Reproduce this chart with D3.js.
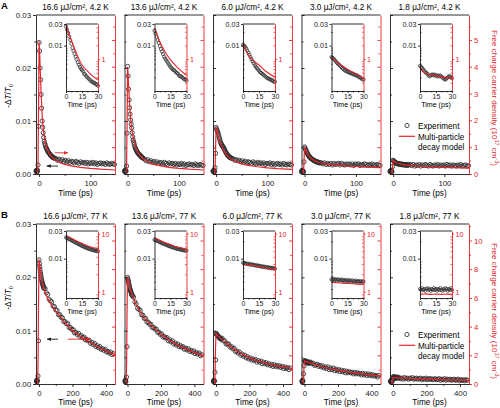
<!DOCTYPE html>
<html><head><meta charset="utf-8">
<script src="https://cdn.jsdelivr.net/npm/d3@7"></script>
<style>
body{margin:0;background:#fff;}
svg text{font-family:"Liberation Sans",Arial,sans-serif;}
</style></head><body>
<svg id="c" width="500" height="408"></svg>
<script>
// ---------------- DATA ----------------
const titlesA = ["16.6 μJ/cm², 4.2 K","13.6 μJ/cm², 4.2 K","6.0 μJ/cm², 4.2 K","3.0 μJ/cm², 4.2 K","1.8 μJ/cm², 4.2 K"];
const titlesB = ["16.6 μJ/cm², 77 K","13.6 μJ/cm², 77 K","6.0 μJ/cm², 77 K","3.0 μJ/cm², 77 K","1.8 μJ/cm², 77 K"];

// time axis of the 4.2 K experiment (ps)
const timeA = [-6,-5.5,-5,-4.5,-4,-3.5,-3,-2,-1,0,1,2,3,4,5,6,7,8,9,10,11,12,13,14,15,16,17,18,19,20,21,22,23,24,25,26,27,28,29,30,
  33,36,39,42,45,48,51,54,57,60,63,66,69,72,75,78,81,84,87,90,93,96,99,102,105,108,111,114,117,120,123,126,129,132,135,138,141,144,147];
// -dT/T0 at 4.2 K
const expA1 = [0.0006,0.0004,0.0007,0.0005,0.0006,0.0004,0.0007,0.0017,0.0090,
  0.0248,0.0232,0.0200,0.0178,0.0150,0.0124,0.0100,0.0088,0.0078,0.0069,0.0062,0.0058,0.0055,0.0051,0.0049,0.0047,0.0045,0.0043,0.0041,0.0040,0.0039,0.0037,0.0036,0.0035,0.0034,0.0033,0.0032,0.0031,0.0031,0.0030,0.0030,
  0.0029,0.0026,0.0028,0.0025,0.0027,0.0024,0.0026,0.0023,0.0025,0.0022,0.0024,0.0023,0.0021,0.0024,0.0022,0.0020,0.0023,0.0021,0.0022,0.0020,0.0022,0.0019,0.0021,0.0020,0.0022,0.0019,0.0021,0.0018,0.0020,0.0021,0.0019,0.0020,0.0018,0.0021,0.0019,0.0018,0.0020,0.0019,0.0018];
const expA2 = [0.0005,0.0007,0.0004,0.0006,0.0005,0.0007,0.0005,0.0015,0.0077,
  0.0203,0.0185,0.0160,0.0140,0.0125,0.0113,0.0102,0.0094,0.0087,0.0078,0.0070,0.0064,0.0060,0.0056,0.0052,0.0049,0.0047,0.0045,0.0043,0.0041,0.0040,0.0039,0.0037,0.0036,0.0036,0.0034,0.0033,0.0033,0.0031,0.0031,0.0030,
  0.0028,0.0025,0.0027,0.0023,0.0025,0.0022,0.0024,0.0021,0.0023,0.0020,0.0022,0.0021,0.0019,0.0022,0.0020,0.0018,0.0021,0.0019,0.0020,0.0018,0.0020,0.0017,0.0019,0.0018,0.0020,0.0017,0.0019,0.0016,0.0018,0.0019,0.0017,0.0018,0.0016,0.0019,0.0017,0.0016,0.0018,0.0017,0.0016];
const expA3 = [0.0005,0.0006,0.0004,0.0007,0.0005,0.0006,0.0004,0.0012,0.0039,
  0.0088,0.0085,0.0082,0.0080,0.0077,0.0073,0.0069,0.0066,0.0062,0.0059,0.0057,0.0055,0.0053,0.0052,0.0051,0.0049,0.0047,0.0045,0.0043,0.0041,0.0039,0.0038,0.0036,0.0035,0.0034,0.0033,0.0032,0.0031,0.0031,0.0030,0.0030,
  0.0029,0.0026,0.0027,0.0025,0.0026,0.0023,0.0025,0.0022,0.0024,0.0021,0.0023,0.0022,0.0020,0.0023,0.0021,0.0019,0.0022,0.0020,0.0021,0.0019,0.0021,0.0018,0.0020,0.0019,0.0021,0.0018,0.0020,0.0017,0.0019,0.0020,0.0018,0.0019,0.0017,0.0020,0.0018,0.0017,0.0019,0.0018,0.0017];
const expA4 = [0.0004,0.0006,0.0005,0.0007,0.0004,0.0006,0.0005,0.0004,0.0023,
  0.0051,0.0049,0.0046,0.0044,0.0042,0.0040,0.0038,0.0036,0.0034,0.0033,0.0032,0.0031,0.0030,0.0029,0.0028,0.0028,0.0027,0.0026,0.0026,0.0025,0.0025,0.0024,0.0024,0.0023,0.0023,0.0023,0.0022,0.0022,0.0022,0.0021,0.0021,
  0.0021,0.0019,0.0021,0.0018,0.0020,0.0018,0.0020,0.0017,0.0020,0.0018,0.0019,0.0020,0.0017,0.0020,0.0018,0.0017,0.0019,0.0018,0.0019,0.0017,0.0019,0.0016,0.0019,0.0018,0.0019,0.0016,0.0018,0.0017,0.0019,0.0018,0.0016,0.0018,0.0017,0.0019,0.0017,0.0016,0.0018,0.0017,0.0016];
const expA5 = [0.0005,0.0004,0.0006,0.0005,0.0007,0.0004,0.0006,0.0004,0.0014,
  0.0026,0.0025,0.0024,0.0023,0.0022,0.0021,0.0021,0.0020,0.0020,0.0019,0.0020,0.0019,0.0019,0.0018,0.0019,0.0018,0.0018,0.0019,0.0018,0.0017,0.0018,0.0018,0.0017,0.0018,0.0017,0.0017,0.0018,0.0017,0.0016,0.0017,0.0017,
  0.0018,0.0016,0.0018,0.0015,0.0017,0.0016,0.0018,0.0015,0.0017,0.0016,0.0018,0.0016,0.0015,0.0018,0.0016,0.0015,0.0017,0.0016,0.0018,0.0015,0.0017,0.0016,0.0017,0.0015,0.0018,0.0016,0.0017,0.0015,0.0017,0.0016,0.0015,0.0017,0.0016,0.0018,0.0015,0.0016,0.0017,0.0015,0.0016];

// multi-particle decay model at 4.2 K, carrier density (1e17 cm^-3)
const modelTimeA = [-3,-2,-1,0,1,2,3,4,5,6,8,10,12,15,20,25,30,40,50,60,80,100,120,148];
const modelA1 = [0,0.4,2.5,4.95,4.6,4.0,3.5,3.0,2.6,2.2,1.7,1.4,1.2,0.98,0.76,0.63,0.54,0.43,0.36,0.31,0.25,0.21,0.18,0.15];
const modelA2 = [0,0.3,1.8,4.0,3.7,3.3,2.9,2.6,2.3,2.05,1.7,1.45,1.25,1.04,0.82,0.68,0.58,0.45,0.37,0.32,0.25,0.21,0.18,0.15];
const modelA3 = [0,0.2,0.9,1.75,1.68,1.6,1.52,1.45,1.38,1.3,1.18,1.07,0.98,0.87,0.72,0.62,0.55,0.45,0.38,0.33,0.27,0.23,0.2,0.17];
const modelA4 = [0,0.1,0.5,1.0,0.96,0.92,0.88,0.84,0.8,0.76,0.7,0.64,0.6,0.55,0.49,0.45,0.42,0.38,0.35,0.33,0.3,0.28,0.26,0.24];
const modelA5 = [0,0.05,0.25,0.5,0.49,0.47,0.46,0.45,0.44,0.43,0.41,0.4,0.39,0.37,0.35,0.33,0.32,0.3,0.29,0.28,0.26,0.25,0.24,0.22];

// insets (0-30 ps, log scale)
const insetTime = [0,1,2,3,4,5,6,7,8,9,10,11,12,13,14,15,16,17,18,19,20,21,22,23,24,25,26,27,28,29,30];
const insetModelTime = [0,2,5,10,15,20,25,30];
const insetA1 = [0.0262,0.0225,0.0190,0.0158,0.0133,0.0110,0.0089,0.0077,0.0066,0.0057,0.0050,0.0043,0.0038,0.0034,0.0031,0.0029,0.0027,0.0024,0.0023,0.0021,0.0020,0.0019,0.0018,0.0017,0.0016,0.0016,0.0015,0.0015,0.0014,0.0014,0.0013];
const insetA2 = [0.0213,0.0185,0.0158,0.0133,0.0115,0.0098,0.0084,0.0074,0.0065,0.0057,0.0052,0.0048,0.0044,0.0040,0.0037,0.0034,0.0032,0.0030,0.0029,0.0028,0.0026,0.0025,0.0024,0.0022,0.0021,0.0021,0.0020,0.0019,0.0018,0.0018,0.0017];
const insetA3 = [0.0105,0.0100,0.0095,0.0087,0.0078,0.0070,0.0063,0.0056,0.0050,0.0045,0.0041,0.0037,0.0034,0.0032,0.0030,0.0028,0.0026,0.0025,0.0024,0.0023,0.0022,0.0021,0.0020,0.0019,0.0019,0.0018,0.0018,0.0017,0.0017,0.0016,0.0016];
const insetA4 = [0.0056,0.0054,0.0051,0.0048,0.0045,0.0042,0.0040,0.0038,0.0036,0.0034,0.0032,0.0031,0.0029,0.0028,0.0027,0.0027,0.0026,0.0025,0.0025,0.0024,0.0024,0.0023,0.0023,0.0022,0.0022,0.0021,0.0020,0.0020,0.0019,0.0018,0.0018];
const insetA5 = [0.0036,0.0034,0.0032,0.0030,0.0028,0.0026,0.0025,0.0024,0.0022,0.0021,0.0022,0.0023,0.0023,0.0022,0.0023,0.0022,0.0021,0.0022,0.0021,0.0022,0.0021,0.0020,0.0019,0.0018,0.0018,0.0019,0.0020,0.0021,0.0021,0.0020,0.0019];
const insetModelA1 = [5.8,3.9,2.6,1.3,0.74,0.55,0.42,0.35];
const insetModelA2 = [4.8,3.6,2.4,1.43,0.96,0.71,0.55,0.44];
const insetModelA3 = [2.25,1.7,1.23,0.91,0.74,0.57,0.47,0.40];
const insetModelA4 = [1.1,0.98,0.85,0.71,0.6,0.51,0.44,0.375];
const insetModelA5 = [0.66,0.55,0.49,0.45,0.43,0.41,0.39,0.37];

// time axis of the 77 K experiment (ps)
const timeB = [-15,-14,-13,-12,-11,-10,-6,-3,0,2,4,6,8,10,12,14,16,18,20,22,24,26,28,30,
  36,44,52,60,68,76,84,92,100,108,116,124,132,140,148,156,164,172,180,188,196,204,212,220,228,236,244,252,260,268,276,284,292,300,308,316,324,332,340,348,356,364,372,380,388,396,404,412,420,428,436,444];
const expB1 = [0.0005,0.0007,0.0004,0.0006,0.0005,0.0007,0.0015,0.0081,
  0.0233,0.0226,0.0220,0.0215,0.0210,0.0206,0.0202,0.0198,0.0195,0.0192,0.0189,0.0187,0.0185,0.0183,0.0181,0.0179,
  0.0179,0.0171,0.0168,0.0159,0.0156,0.0154,0.0146,0.0145,0.0139,0.0138,0.0130,0.0130,0.0125,0.0124,0.0117,0.0117,0.0113,0.0113,0.0106,0.0106,0.0102,0.0102,0.0096,0.0097,0.0093,0.0095,0.0089,0.0091,0.0087,0.0088,0.0083,0.0084,0.0081,0.0082,0.0076,0.0078,0.0074,0.0076,0.0070,0.0072,0.0068,0.0070,0.0065,0.0066,0.0063,0.0065,0.0060,0.0061,0.0058,0.0060,0.0055,0.0057];
const expB2 = [0.0006,0.0004,0.0007,0.0005,0.0006,0.0004,0.0013,0.0070,
  0.0200,0.0197,0.0194,0.0191,0.0188,0.0185,0.0182,0.0179,0.0177,0.0175,0.0173,0.0171,0.0169,0.0167,0.0166,0.0165,
  0.0163,0.0154,0.0150,0.0142,0.0140,0.0138,0.0130,0.0129,0.0123,0.0123,0.0116,0.0116,0.0112,0.0112,0.0106,0.0106,0.0103,0.0103,0.0097,0.0097,0.0093,0.0094,0.0088,0.0089,0.0086,0.0087,0.0081,0.0083,0.0079,0.0081,0.0075,0.0077,0.0073,0.0075,0.0070,0.0072,0.0069,0.0070,0.0065,0.0067,0.0064,0.0066,0.0061,0.0063,0.0060,0.0062,0.0057,0.0059,0.0056,0.0058,0.0053,0.0055];
const expB3 = [0.0005,0.0006,0.0004,0.0007,0.0005,0.0006,0.0022,0.0045,
  0.0095,0.0094,0.0093,0.0092,0.0091,0.0091,0.0090,0.0089,0.0088,0.0088,0.0087,0.0086,0.0086,0.0085,0.0085,0.0084,
  0.0086,0.0081,0.0081,0.0075,0.0075,0.0075,0.0069,0.0070,0.0066,0.0067,0.0061,0.0062,0.0058,0.0060,0.0054,0.0056,0.0052,0.0054,0.0049,0.0051,0.0047,0.0049,0.0045,0.0047,0.0044,0.0046,0.0041,0.0044,0.0041,0.0043,0.0038,0.0041,0.0038,0.0040,0.0036,0.0038,0.0035,0.0037,0.0033,0.0036,0.0033,0.0035,0.0032,0.0034,0.0031,0.0033,0.0029,0.0032,0.0029,0.0031,0.0027,0.0030];
const expB4 = [0.0004,0.0006,0.0005,0.0007,0.0004,0.0006,0.0019,0.0034,
  0.0043,0.0044,0.0042,0.0043,0.0041,0.0042,0.0041,0.0040,0.0042,0.0040,0.0041,0.0039,0.0040,0.0041,0.0039,0.0040,
  0.0041,0.0038,0.0039,0.0035,0.0036,0.0037,0.0033,0.0035,0.0032,0.0034,0.0030,0.0032,0.0029,0.0032,0.0027,0.0030,0.0027,0.0030,0.0025,0.0028,0.0025,0.0027,0.0023,0.0026,0.0023,0.0025,0.0021,0.0024,0.0021,0.0023,0.0021,0.0022,0.0019,0.0022,0.0019,0.0021,0.0019,0.0020,0.0017,0.0020,0.0017,0.0019,0.0016,0.0019,0.0016,0.0018,0.0015,0.0017,0.0015,0.0016,0.0013,0.0016];
const expB5 = [0.0005,0.0004,0.0006,0.0005,0.0007,0.0004,0.0004,0.0007,
  0.0013,0.0012,0.0014,0.0012,0.0013,0.0011,0.0013,0.0012,0.0011,0.0013,0.0012,0.0011,0.0012,0.0013,0.0011,0.0012,
  0.0012,0.0010,0.0011,0.0009,0.0012,0.0010,0.0011,0.0009,0.0011,0.0010,0.0012,0.0009,0.0010,0.0011,0.0009,0.0010,0.0011,0.0008,0.0010,0.0009,0.0011,0.0008,0.0010,0.0009,0.0010,0.0008,0.0009,0.0010,0.0008,0.0009,0.0010,0.0007,0.0009,0.0008,0.0010,0.0007,0.0009,0.0008,0.0009,0.0007,0.0008,0.0009,0.0007,0.0008,0.0009,0.0006,0.0008,0.0007,0.0008,0.0006,0.0008,0.0007];

const modelTimeB = [-8,-5,-3,0,10,20,30,50,75,100,150,200,250,300,350,400,454];
const modelB1 = [0,2,5.5,8.7,7.7,7.0,6.6,6.0,5.5,5.1,4.35,3.75,3.3,2.95,2.6,2.3,2.05];
const modelB2 = [0,1.8,4.8,7.45,7.0,6.5,6.13,5.58,5.05,4.6,3.98,3.46,3.05,2.71,2.45,2.19,1.97];
const modelB3 = [0,1,2.5,3.5,3.38,3.27,3.16,2.97,2.72,2.49,2.12,1.82,1.6,1.45,1.3,1.19,1.08];
const modelB4 = [0,0.5,1.2,1.6,1.56,1.52,1.49,1.41,1.3,1.22,1.08,0.97,0.86,0.78,0.7,0.62,0.56];
const modelB5 = [0,0.15,0.35,0.45,0.44,0.44,0.43,0.42,0.41,0.39,0.37,0.34,0.32,0.3,0.28,0.27,0.25];

const insetB1 = [0.0232,0.0228,0.0223,0.0218,0.0213,0.0208,0.0203,0.0199,0.0194,0.0190,0.0186,0.0182,0.0178,0.0174,0.0170,0.0166,0.0163,0.0160,0.0157,0.0154,0.0151,0.0149,0.0147,0.0145,0.0143,0.0141,0.0139,0.0138,0.0137,0.0135,0.0134];
const insetB2 = [0.0212,0.0209,0.0205,0.0201,0.0197,0.0193,0.0189,0.0186,0.0182,0.0179,0.0176,0.0173,0.0170,0.0167,0.0164,0.0162,0.0159,0.0157,0.0155,0.0153,0.0151,0.0149,0.0147,0.0146,0.0144,0.0143,0.0141,0.0140,0.0139,0.0138,0.0137];
const insetB3 = [0.0085,0.0083,0.0084,0.0082,0.0081,0.0082,0.0080,0.0079,0.0080,0.0078,0.0079,0.0077,0.0076,0.0077,0.0075,0.0076,0.0074,0.0073,0.0074,0.0072,0.0073,0.0071,0.0072,0.0070,0.0071,0.0069,0.0070,0.0068,0.0069,0.0068,0.0067];
const insetB4 = [0.0044,0.0043,0.0045,0.0043,0.0044,0.0042,0.0044,0.0043,0.0042,0.0044,0.0042,0.0043,0.0041,0.0043,0.0042,0.0041,0.0043,0.0041,0.0042,0.0040,0.0042,0.0041,0.0040,0.0042,0.0040,0.0041,0.0040,0.0041,0.0039,0.0041,0.0040];
const insetB5 = [0.0030,0.0029,0.0031,0.0029,0.0030,0.0028,0.0030,0.0031,0.0029,0.0030,0.0028,0.0030,0.0029,0.0031,0.0029,0.0030,0.0028,0.0030,0.0029,0.0031,0.0029,0.0028,0.0030,0.0029,0.0031,0.0030,0.0028,0.0030,0.0029,0.0031,0.0029];
const insetModelB1 = [9.4,9.0,8.4,7.5,6.8,6.2,5.8,5.5];
const insetModelB2 = [8.6,8.2,7.7,7.0,6.5,6.0,5.7,5.4];
const insetModelB3 = [3.0,2.95,2.9,2.8,2.7,2.6,2.5,2.45];
const insetModelB4 = [1.45,1.44,1.43,1.41,1.39,1.37,1.35,1.34];
const insetModelB5 = [0.92,0.91,0.92,0.9,0.91,0.9,0.91,0.9];

// axis tick values
const leftTicks = [0,0.01,0.02,0.03];
const leftMinor = [0.005,0.015,0.025];
const xTicksA = [0,100], xMinorA = [50];
const xTicksB = [0,200,400], xMinorB = [100,300];
const rightTicksA = [0,1,2,3,4,5], rightMinorA = [0.5,1.5,2.5,3.5,4.5,5.5];
const rightTicksB = [0,2,4,6,8,10], rightMinorB = [1,3,5,7,9,11];
const insetXTicks = [0,15,30], insetXMinor = [5,10,20,25];
const insetLeftTicks = [0.01,0.03];
const insetRightTicksA = [1], insetRightTicksB = [1,10];

// ---------------- DRAWING ----------------
const RED = "#e4262c", INK = "#1a1a1a", CIRC = "#2e2e2e";
const W = 79;
const lefts = [0,1,2,3,4].map(i => 36 + i*88.5);
const svg = d3.select("#c");
const defs = svg.append("defs");
[["arR",RED],["arK",INK]].forEach(([id,c])=>{
  defs.append("marker").attr("id",id).attr("viewBox","0 0 10 10").attr("refX",9).attr("refY",5)
    .attr("markerWidth",5).attr("markerHeight",5).attr("orient","auto")
    .append("path").attr("d","M0,1 L10,5 L0,9 Z").attr("fill",c);
});

function styleAxis(g, color, fs){
  g.selectAll("path,line").attr("stroke",color).attr("stroke-width",0.9);
  g.selectAll("text").attr("font-size",fs).attr("fill",color).attr("font-family",'"Liberation Sans",Arial,sans-serif');
}
function minor(g, axis, color){
  g.call(axis.tickFormat("").tickSizeOuter(0));
  g.select(".domain").remove();
  g.selectAll("line").attr("stroke",color).attr("stroke-width",0.8);
}

const rows = [
  {top:15, h:159, xDom:[-6,148], rMax:5.93, titles:titlesA, t:timeA,
   exp:[expA1,expA2,expA3,expA4,expA5], mt:modelTimeA, model:[modelA1,modelA2,modelA3,modelA4,modelA5],
   iexp:[insetA1,insetA2,insetA3,insetA4,insetA5], imod:[insetModelA1,insetModelA2,insetModelA3,insetModelA4,insetModelA5],
   insetTop:9, iyDom:[0.001,0.03], iryDom:[0.1977,5.93], irTicks:insetRightTicksA,
   xT:xTicksA, xM:xMinorA, rT:rightTicksA, rM:rightMinorA, letter:"A", letterY:9,
   leftTitleY:96, rightTitleY:98,
   arrows:[{t0:31,t1:56,v:0.0040,c:RED,m:"arR"},{t0:37,t1:15,v:0.0015,c:INK,m:"arK"}]},
  {top:224, h:160, xDom:[-18,454], rMax:11.15, titles:titlesB, t:timeB,
   exp:[expB1,expB2,expB3,expB4,expB5], mt:modelTimeB, model:[modelB1,modelB2,modelB3,modelB4,modelB5],
   iexp:[insetB1,insetB2,insetB3,insetB4,insetB5], imod:[insetModelB1,insetModelB2,insetModelB3,insetModelB4,insetModelB5],
   insetTop:7, iyDom:[0.0021,0.03], iryDom:[0.78,11.15], irTicks:insetRightTicksB,
   xT:xTicksB, xM:xMinorB, rT:rightTicksB, rM:rightMinorB, letter:"B", letterY:218,
   leftTitleY:298, rightTitleY:311,
   arrows:[{t0:113,t1:48,v:0.0084,c:INK,m:"arK"},{t0:173,t1:305,v:0.0084,c:RED,m:"arR"}]}
];

rows.forEach(cfg=>{
  const x = d3.scaleLinear().domain(cfg.xDom).range([0,W]);
  const y = d3.scaleLinear().domain([0,0.03]).range([cfg.h,0]);
  const yr = d3.scaleLinear().domain([0,cfg.rMax]).range([cfg.h,0]);
  const IW = 32, IH = 67;
  const xi = d3.scaleLinear().domain([0,30]).range([0,IW]);
  const yi = d3.scaleLog().domain(cfg.iyDom).range([IH,0]).clamp(true);
  const yri = d3.scaleLog().domain(cfg.iryDom).range([IH,0]).clamp(true);

  svg.append("text").attr("x",1).attr("y",cfg.letterY).attr("font-size",9.5).attr("font-weight","bold").text(cfg.letter);

  // left title
  const lt = svg.append("text").attr("transform",`translate(11,${cfg.leftTitleY}) rotate(-90)`)
    .attr("text-anchor","middle").attr("font-size",8.2);
  lt.append("tspan").text("-Δ");
  lt.append("tspan").attr("font-style","italic").text("T");
  lt.append("tspan").text("/");
  lt.append("tspan").attr("font-style","italic").text("T");
  lt.append("tspan").attr("font-size",5.5).attr("dy",2).text("0");

  // right title
  const rt = svg.append("text").attr("transform",`translate(492,${cfg.rightTitleY}) rotate(90)`)
    .attr("text-anchor","middle").attr("font-size",8).attr("fill",RED);
  rt.append("tspan").text("Free charge carrier density (10");
  rt.append("tspan").attr("font-size",5.5).attr("dy",-3).text("17");
  rt.append("tspan").attr("dy",3).text(" cm");
  rt.append("tspan").attr("font-size",5.5).attr("dy",-3).text("-3");
  rt.append("tspan").attr("dy",3).text(")");

  for(let p=0;p<5;p++){
    const g = svg.append("g").attr("transform",`translate(${lefts[p]},${cfg.top})`);
    g.append("text").attr("x",W/2).attr("y",-5).attr("text-anchor","middle").attr("font-size",8.2)
      .text(cfg.titles[p]);

    // experiment
    g.append("g").selectAll("circle").data(d3.zip(cfg.t, cfg.exp[p])).join("circle")
      .attr("cx",d=>x(d[0])).attr("cy",d=>y(d[1])).attr("r",2.1)
      .attr("fill","none").attr("stroke",CIRC).attr("stroke-width",0.85);
    // model
    g.append("path").datum(d3.zip(cfg.mt, cfg.model[p]))
      .attr("d",d3.line().x(d=>x(d[0])).y(d=>yr(d[1])))
      .attr("fill","none").attr("stroke",RED).attr("stroke-width",1.2);

    // frame top
    g.append("line").attr("x1",0).attr("x2",W).attr("y1",0).attr("y2",0).attr("stroke",INK).attr("stroke-width",0.9);

    // left axis
    const la = g.append("g");
    if(p===0){
      la.call(d3.axisLeft(y).tickValues(leftTicks).tickFormat(d3.format(".2f")).tickSize(3).tickSizeOuter(0).tickPadding(2));
    } else {
      la.call(d3.axisLeft(y).tickValues(leftTicks).tickFormat("").tickSize(-3).tickSizeOuter(0));
    }
    styleAxis(la, INK, 7.8);
    minor(g.append("g"), d3.axisLeft(y).tickValues(leftMinor).tickSize(p===0?2:-2), INK);

    // right axis
    const ra = g.append("g").attr("transform",`translate(${W},0)`);
    if(p===4){
      ra.call(d3.axisRight(yr).tickValues(cfg.rT).tickFormat(d3.format("d")).tickSize(3).tickSizeOuter(0).tickPadding(2));
      minor(g.append("g").attr("transform",`translate(${W},0)`), d3.axisRight(yr).tickValues(cfg.rM.filter(v=>v<=cfg.rMax)).tickSize(2), RED);
    } else {
      ra.call(d3.axisRight(yr).tickValues(cfg.rT).tickFormat("").tickSize(-3).tickSizeOuter(0));
      minor(g.append("g").attr("transform",`translate(${W},0)`), d3.axisRight(yr).tickValues(cfg.rM.filter(v=>v<=cfg.rMax)).tickSize(-2), RED);
    }
    styleAxis(ra, RED, 7.8);

    // bottom axis
    const ba = g.append("g").attr("transform",`translate(0,${cfg.h})`);
    ba.call(d3.axisBottom(x).tickValues(cfg.xT).tickFormat(d3.format("d")).tickSize(3).tickSizeOuter(0).tickPadding(3));
    styleAxis(ba, INK, 7.8);
    minor(g.append("g").attr("transform",`translate(0,${cfg.h})`), d3.axisBottom(x).tickValues(cfg.xM).tickSize(2), INK);
    g.append("text").attr("x",W/2).attr("y",181).attr("text-anchor","middle").attr("font-size",8.2).text("Time (ps)");

    // arrows (first panel)
    if(p===0){
      cfg.arrows.forEach(a=>{
        g.append("line").attr("x1",x(a.t0)).attr("x2",x(a.t1)).attr("y1",y(a.v)).attr("y2",y(a.v))
          .attr("stroke",a.c).attr("stroke-width",0.9).attr("marker-end",`url(#${a.m})`);
      });
    }

    // legend (last panel)
    if(p===4){
      g.append("circle").attr("cx",17).attr("cy",110.5).attr("r",2.1).attr("fill","none").attr("stroke",CIRC).attr("stroke-width",0.85);
      g.append("line").attr("x1",9).attr("x2",25).attr("y1",121.3).attr("y2",121.3).attr("stroke",RED).attr("stroke-width",1.2);
      [["Experiment",113.5],["Multi-particle",124.5],["decay model",135]].forEach(([s,yy])=>{
        g.append("text").attr("x",28).attr("y",yy).attr("font-size",8.2).text(s);
      });
    }

    // inset
    const ig = g.append("g").attr("transform",`translate(30,${cfg.insetTop})`);
    ig.append("rect").attr("width",IW).attr("height",IH).attr("fill","#fff");
    ig.append("g").selectAll("circle").data(d3.zip(insetTime, cfg.iexp[p])).join("circle")
      .attr("cx",d=>xi(d[0])).attr("cy",d=>yi(d[1])).attr("r",1.6)
      .attr("fill","none").attr("stroke",CIRC).attr("stroke-width",0.75);
    ig.append("path").datum(d3.zip(insetModelTime, cfg.imod[p]))
      .attr("d",d3.line().curve(d3.curveMonotoneX).x(d=>xi(d[0])).y(d=>yri(d[1])))
      .attr("fill","none").attr("stroke",RED).attr("stroke-width",1.1);
    ig.append("line").attr("x1",0).attr("x2",IW).attr("y1",0).attr("y2",0).attr("stroke",INK).attr("stroke-width",0.9);
    const il = ig.append("g");
    il.call(d3.axisLeft(yi).tickValues(insetLeftTicks).tickFormat(d3.format(".2f")).tickSize(2).tickSizeOuter(0).tickPadding(1.5));
    styleAxis(il, INK, 7.2);
    minor(ig.append("g"), d3.axisLeft(yi).tickValues(yi.ticks().filter(v=>!insetLeftTicks.includes(v))).tickSize(-1.5), INK);
    const ir = ig.append("g").attr("transform",`translate(${IW},0)`);
    ir.call(d3.axisRight(yri).tickValues(cfg.irTicks).tickFormat(d3.format("d")).tickSize(2).tickSizeOuter(0).tickPadding(1.5));
    styleAxis(ir, RED, 7.2);
    minor(ig.append("g").attr("transform",`translate(${IW},0)`), d3.axisRight(yri).tickValues(yri.ticks().filter(v=>!cfg.irTicks.includes(v))).tickSize(-1.5), RED);
    const ib = ig.append("g").attr("transform",`translate(0,${IH})`);
    ib.call(d3.axisBottom(xi).tickValues(insetXTicks).tickFormat(d3.format("d")).tickSize(2).tickSizeOuter(0).tickPadding(1));
    styleAxis(ib, INK, 7);
    minor(ig.append("g").attr("transform",`translate(0,${IH})`), d3.axisBottom(xi).tickValues(insetXMinor).tickSize(1.5), INK);
    ig.append("text").attr("x",IW/2).attr("y",IH+16.3).attr("text-anchor","middle").attr("font-size",7.1).text("Time (ps)");
  }
});
</script>
</body></html>
